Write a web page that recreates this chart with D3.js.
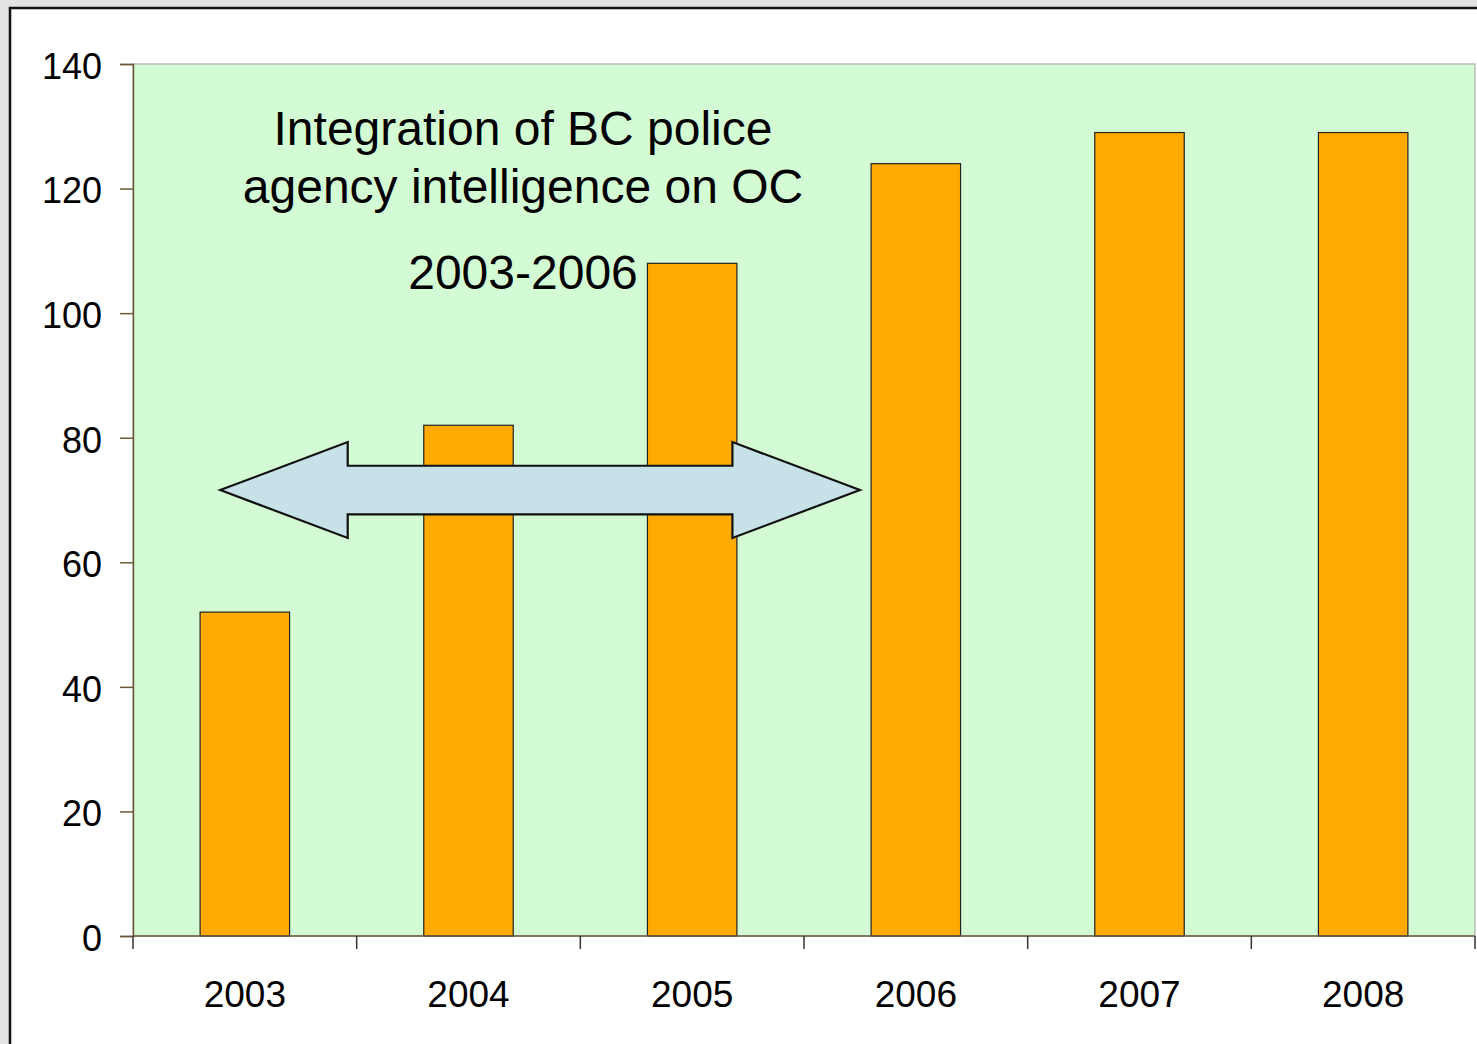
<!DOCTYPE html>
<html>
<head>
<meta charset="utf-8">
<title>Integration of BC police agency intelligence on OC</title>
<script src="https://cdn.jsdelivr.net/npm/d3@7"></script>
<style>
  body { margin: 0; background: #e3e3e3; }
  svg { display: block; font-family: "Liberation Sans", Arial, sans-serif; }
</style>
</head>
<body>
<script>
    // data
    var years = ["2003", "2004", "2005", "2006", "2007", "2008"];
    var values = [52, 82, 108, 124, 129, 129];
    var yTicks = [0, 20, 40, 60, 80, 100, 120, 140];
    var titleLines = ["Integration of BC police", "agency intelligence on OC"];
    var periodLabel = "2003-2006";

    var svgWidth = 1477, svgHeight = 1044;
    var plotLeft = 133, plotRight = 1475, plotTop = 64, plotBottom = 936;

    var svg = d3.select("body").append("svg")
        .attr("width", svgWidth).attr("height", svgHeight);

    // outer frame
    svg.append("rect")
        .attr("x", 10).attr("y", 8).attr("width", svgWidth + 20).attr("height", svgHeight + 20)
        .attr("fill", "#fff").attr("stroke", "#111").attr("stroke-width", 2.5);

    var x = d3.scaleBand().domain(years).range([plotLeft, plotRight])
        .paddingInner(0.6).paddingOuter(0.3);
    var y = d3.scaleLinear().domain([0, 140]).range([plotBottom, plotTop]);

    // index scale for the annotation arrow (0 = centre of first band)
    var xi = d3.scaleLinear().domain([0, 1])
        .range([x(years[0]) + x.bandwidth() / 2, x(years[1]) + x.bandwidth() / 2]);

    // plot background
    svg.append("rect")
        .attr("x", plotLeft).attr("y", plotTop)
        .attr("width", plotRight - plotLeft).attr("height", plotBottom - plotTop)
        .attr("fill", "#d4fcd4").attr("stroke", "#b8c0b8").attr("stroke-width", 1.5);

    // bars
    svg.selectAll("rect.bar")
        .data(values)
        .enter()
        .append("rect")
        .attr("class", "bar")
        .attr("x", function(d, i) { return x(years[i]); })
        .attr("y", function(d) { return y(d); })
        .attr("width", x.bandwidth())
        .attr("height", function(d) { return y(0) - y(d); })
        .attr("fill", "#ffaa00")
        .attr("stroke", "#222").attr("stroke-width", 1.2);

    // y axis
    var yAxis = svg.append("g")
        .attr("transform", "translate(" + plotLeft + ",0)")
        .call(d3.axisLeft(y).tickValues(yTicks).tickSize(13).tickPadding(18));
    yAxis.select(".domain").attr("stroke", "#6b5a3a").attr("stroke-width", 1.5);
    yAxis.selectAll(".tick line").attr("stroke", "#6b5a3a").attr("stroke-width", 1.5);
    yAxis.selectAll("text").attr("font-size", 36).attr("fill", "#000").attr("dy", "0.4em")
        .attr("font-family", "Liberation Sans, Arial, sans-serif");

    // x axis: ticks on band boundaries
    var bounds = years.map(function(d, i) { return plotLeft + i * x.step(); }).concat([plotRight]);
    svg.append("line")
        .attr("x1", plotLeft).attr("x2", plotRight).attr("y1", plotBottom).attr("y2", plotBottom)
        .attr("stroke", "#6b5a3a").attr("stroke-width", 1.5);
    svg.selectAll("line.xtick")
        .data(bounds)
        .enter()
        .append("line")
        .attr("class", "xtick")
        .attr("x1", function(d) { return d; }).attr("x2", function(d) { return d; })
        .attr("y1", plotBottom).attr("y2", plotBottom + 13)
        .attr("stroke", "#333").attr("stroke-width", 1.5);
    svg.selectAll("text.xlab")
        .data(years)
        .enter()
        .append("text")
        .attr("class", "xlab")
        .attr("x", function(d) { return x(d) + x.bandwidth() / 2; })
        .attr("y", 1007)
        .attr("text-anchor", "middle")
        .attr("font-size", 37)
        .text(function(d) { return d; });

    // double-headed arrow 2003-2006
    var arrowY = 71.6, shaftHalf = 3.9, headHalf = 7.7;
    var tipL = -0.11, baseL = 0.46, baseR = 2.18, tipR = 2.75;
    var pts = [
        [xi(tipL), y(arrowY)],
        [xi(baseL), y(arrowY + headHalf)],
        [xi(baseL), y(arrowY + shaftHalf)],
        [xi(baseR), y(arrowY + shaftHalf)],
        [xi(baseR), y(arrowY + headHalf)],
        [xi(tipR), y(arrowY)],
        [xi(baseR), y(arrowY - headHalf)],
        [xi(baseR), y(arrowY - shaftHalf)],
        [xi(baseL), y(arrowY - shaftHalf)],
        [xi(baseL), y(arrowY - headHalf)]
    ];
    svg.append("path")
        .attr("d", d3.line()(pts) + "Z")
        .attr("fill", "#c6e2e8").attr("stroke", "#111").attr("stroke-width", 2.2)
        .attr("stroke-linejoin", "miter");

    // annotation text
    var cx = 523;
    svg.selectAll("text.title")
        .data(titleLines)
        .enter()
        .append("text")
        .attr("class", "title")
        .attr("x", cx)
        .attr("y", function(d, i) { return 145 + i * 58; })
        .attr("text-anchor", "middle")
        .attr("font-size", 48)
        .text(function(d) { return d; });
    svg.append("text")
        .attr("x", cx).attr("y", 289)
        .attr("text-anchor", "middle")
        .attr("font-size", 48)
        .text(periodLabel);
</script>
</body>
</html>
